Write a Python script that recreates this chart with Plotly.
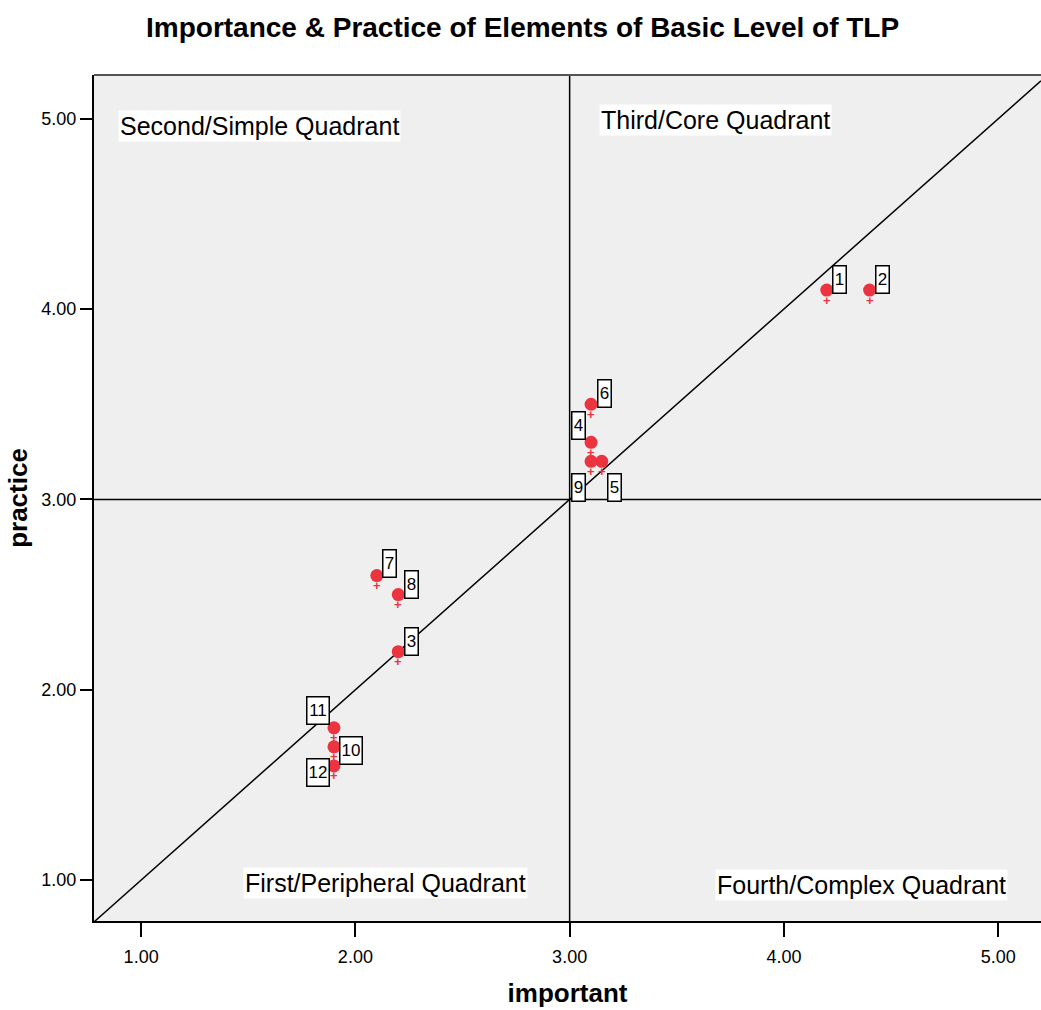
import plotly.graph_objects as go

# ---- data ----
element_ids = ["1", "2", "3", "4", "5", "6", "7", "8", "9", "10", "11", "12"]
important = [4.20, 4.40, 2.20, 3.10, 3.15, 3.10, 2.10, 2.20, 3.10, 1.90, 1.90, 1.90]
practice = [4.10, 4.10, 2.20, 3.30, 3.20, 3.50, 2.60, 2.50, 3.20, 1.70, 1.80, 1.60]

tick_vals = [1, 2, 3, 4, 5]
tick_text = ["1.00", "2.00", "3.00", "4.00", "5.00"]

quadrant_names = ["Second/Simple Quadrant", "Third/Core Quadrant",
                  "First/Peripheral Quadrant", "Fourth/Complex Quadrant"]
quadrant_x = [0.893, 3.135, 1.476, 3.677]
quadrant_y = [4.96, 4.995, 0.984, 0.973]

# label box offsets (pixels: dx right, dy up) per element
label_dx = [13, 13, 13, -13, 13, 13, 13, 13, -13, 17, -16, -16]
label_dy = [11, 11, 10, 17, -26, 11, 12, 10, -26, -4, 17, -7]

FONT = "Liberation Sans, Arial, sans-serif"
RED = "#ec3340"
X_RANGE = [0.78, 5.2]
Y_RANGE = [0.785, 5.23]

fig = go.Figure()
fig.add_trace(go.Scatter(
    x=important, y=practice, mode="markers",
    marker=dict(symbol="circle", size=13, color=RED, line=dict(width=0)),
    hoverinfo="x+y", showlegend=False,
))

annotations = []
for i, lab in enumerate(element_ids):
    # small cross under each marker (female-symbol look)
    annotations.append(dict(
        x=important[i], y=practice[i], xref="x", yref="y",
        text="<b>+</b>", showarrow=False, yshift=-10,
        font=dict(family=FONT, size=13, color=RED),
    ))
for i, lab in enumerate(element_ids):
    annotations.append(dict(
        x=important[i], y=practice[i], xref="x", yref="y",
        text=lab, showarrow=False,
        xshift=label_dx[i], yshift=label_dy[i],
        font=dict(family=FONT, size=17, color="black"),
        bgcolor="white", bordercolor="black", borderwidth=1.5, borderpad=1,
        width=10 if len(lab) == 1 else 19, height=24,
    ))
for name, qx, qy in zip(quadrant_names, quadrant_x, quadrant_y):
    annotations.append(dict(
        x=qx, y=qy, xref="x", yref="y", xanchor="left", yanchor="middle",
        text=name, showarrow=False,
        font=dict(family=FONT, size=25, color="black"),
        bgcolor="white", borderpad=1,
    ))

shapes = [
    dict(type="line", xref="x", yref="y", x0=3, x1=3, y0=Y_RANGE[0], y1=Y_RANGE[1],
         line=dict(color="black", width=1.5), layer="below"),
    dict(type="line", xref="x", yref="y", x0=X_RANGE[0], x1=X_RANGE[1], y0=3, y1=3,
         line=dict(color="black", width=1.5), layer="below"),
    dict(type="line", xref="x", yref="y", x0=X_RANGE[0], x1=X_RANGE[1],
         y0=X_RANGE[0], y1=X_RANGE[1],
         line=dict(color="black", width=1.5), layer="below"),
    # top frame line (grey), no right frame line
    dict(type="line", xref="paper", yref="paper", x0=0, x1=1, y0=1, y1=1,
         line=dict(color="#555555", width=2)),
]

axis_common = dict(
    tickmode="array", tickvals=tick_vals, ticktext=tick_text,
    ticks="outside", tickwidth=2, tickcolor="black",
    showline=True, linecolor="black", linewidth=2, mirror=False,
    showgrid=False, zeroline=False,
    tickfont=dict(family=FONT, size=18, color="black"),
)

fig.update_layout(
    width=1041, height=1010,
    margin=dict(l=94, r=0, t=75, b=89),
    paper_bgcolor="white", plot_bgcolor="#efefef",
    font=dict(family=FONT, color="black"),
    title=dict(text="<b>Importance & Practice of Elements of Basic Level of TLP</b>",
               x=0.502, xref="container", xanchor="center",
               y=1 - 27 / 1010, yref="container", yanchor="middle",
               font=dict(family=FONT, size=28, color="black")),
    xaxis=dict(range=X_RANGE, ticklen=14, ticklabelstandoff=4,
               title=dict(text="<b>important</b>", standoff=18,
                          font=dict(family=FONT, size=26)), **axis_common),
    yaxis=dict(range=Y_RANGE, ticklen=12,
               title=dict(text="<b>practice</b>", standoff=6,
                          font=dict(family=FONT, size=26)), **axis_common),
    annotations=annotations, shapes=shapes,
)

fig.write_html("out.html")
